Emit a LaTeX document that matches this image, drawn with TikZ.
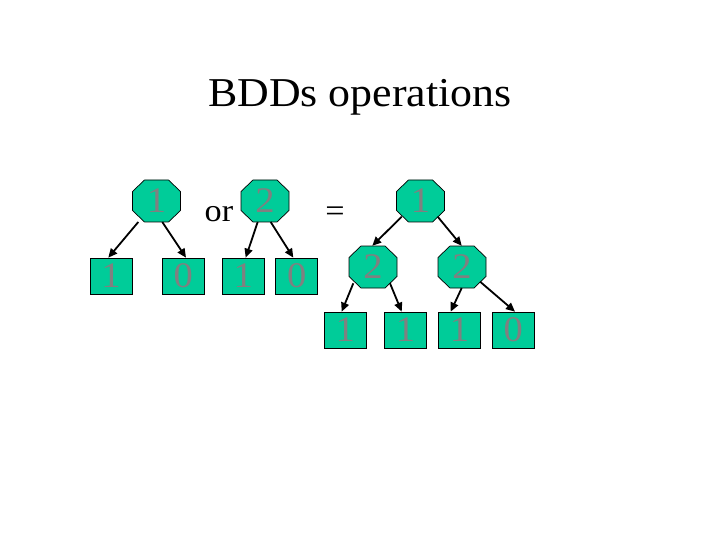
\documentclass[tikz,border=0pt]{standalone}
\usepackage{fontspec}
\usepackage{graphicx}
\setmainfont{Liberation Serif}
\usetikzlibrary{arrows.meta,calc}
\definecolor{tealfill}{RGB}{0,204,153}
\definecolor{digitgray}{RGB}{128,128,128}
\newcommand\sx[1]{\scalebox{1.07}[1]{#1}}
\tikzset{
  octline/.style={draw=black, line width=0.7pt, fill=tealfill},
  octtext/.style={rectangle, minimum width=48pt, minimum height=42pt, inner sep=0pt,
    text=digitgray, font=\fontsize{36}{36}\selectfont},
  leaf/.style={rectangle, draw=black, line width=0.7pt, fill=tealfill, minimum width=42pt, minimum height=36pt,
    inner sep=0pt, text=digitgray, font=\fontsize{36}{36}\selectfont},
  conn/.style={-{Triangle[length=9pt,width=8pt]}, line width=1.8pt},
  lbl/.style={anchor=base, inner sep=0pt, font=\fontsize{32}{32}\selectfont}}
% octagon node: name, x, y, text
\newcommand\octa[4]{%
  \path[octline] (#2-24,#3-9.5) -- (#2-12,#3-21) -- (#2+12,#3-21) -- (#2+24,#3-9.5)
    -- (#2+24,#3+9.5) -- (#2+12,#3+21) -- (#2-12,#3+21) -- (#2-24,#3+9.5) -- cycle;
  \node[octtext] (#1) at (#2,#3) {\sx{#4}};}
\begin{document}
\begin{tikzpicture}[x=1pt,y=-1pt]
\useasboundingbox (0,0) rectangle (720,540);
\node[anchor=base, inner sep=0pt, font=\fontsize{41}{41}\selectfont] (title) at (360,106.7) {\sx{BDDs operations}};
% first operand
\octa{o1}{156.5}{201}{1}
\node[leaf] (a1) at (111,276) {\sx{1}};
\node[leaf] (a2) at (183.3,276) {\sx{0}};
\node[lbl] (or) at (219,221.5) {\sx{or}};
% second operand
\octa{o2}{265}{201}{2}
\node[leaf] (b1) at (243.2,276) {\sx{1}};
\node[leaf] (b2) at (296.7,276) {\sx{0}};
\node[lbl] (eq) at (335,221.5) {\sx{=}};
% result
\octa{t}{420.5}{201}{1}
\octa{l}{373}{267}{2}
\octa{r}{462}{267}{2}
\node[leaf] (c1) at (345.3,330) {\sx{1}};
\node[leaf] (c2) at (405.5,330) {\sx{1}};
\node[leaf] (c3) at (459.5,330) {\sx{1}};
\node[leaf] (c4) at (513.3,330) {\sx{0}};
% connectors
\draw[conn] ($(o1.center)+(-18.2,21)$) -- ($(a1.north)+(-2.7,0)$);
\draw[conn] ($(o1.center)+(5.8,21)$) -- ($(a2.north)+(2.7,0)$);
\draw[conn] ($(o2.center)+(-7.3,21)$) -- ($(b1.north)+(2.5,0)$);
\draw[conn] ($(o2.center)+(5.7,21)$) -- ($(b2.north)+(-3.4,0)$);
\draw[conn] ($(t.center)+(-18.8,15.7)$) -- ($(l.north)+(-0.7,0)$);
\draw[conn] ($(t.center)+(17.2,15.7)$) -- ($(r.north)+(-0.3,0)$);
\draw[conn] ($(l.center)+(-19.7,16.3)$) -- ($(c1.north)+(-3.6,0)$);
\draw[conn] ($(l.center)+(17,16.3)$) -- ($(c2.north)+(-3.8,0)$);
\draw[conn] ($(r.center)+(-0.3,21)$) -- ($(c3.north)+(-8.8,0)$);
\draw[conn] ($(r.center)+(18,14.6)$) -- ($(c4.north)+(1.7,0)$);
\end{tikzpicture}
\end{document}
